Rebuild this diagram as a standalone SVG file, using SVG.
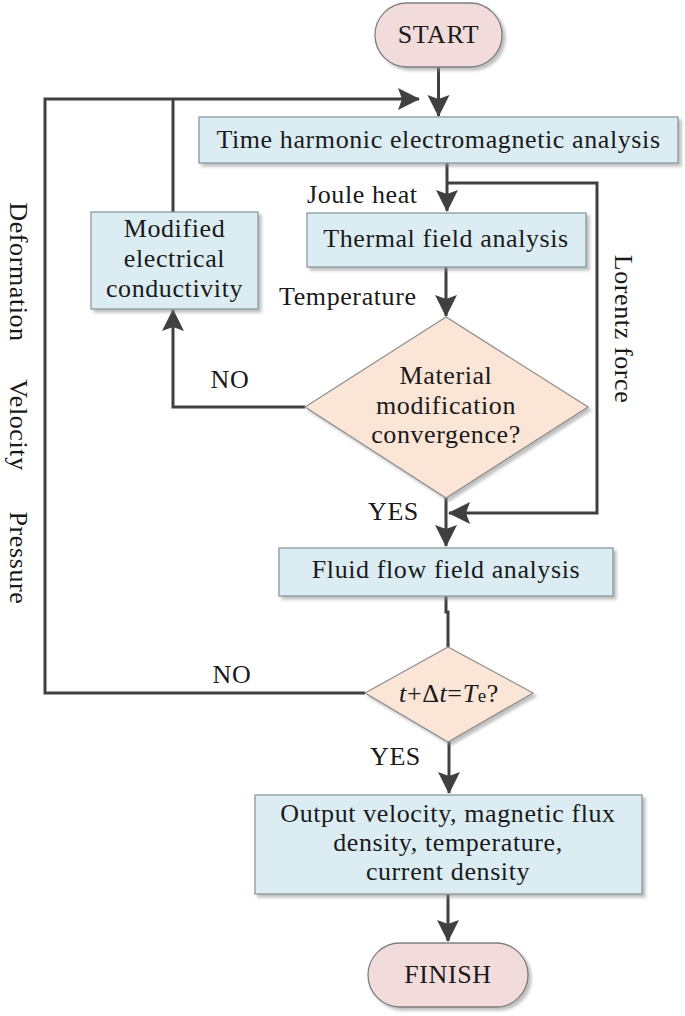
<svg xmlns="http://www.w3.org/2000/svg" width="685" height="1016" viewBox="0 0 685 1016">
<style>
text{font-family:"Liberation Serif","Times New Roman",serif;font-size:26px;letter-spacing:0.6px;fill:#1a1a1a}
.c{text-anchor:middle}
.box{fill:#dbedf3;stroke:#8a9a9f;stroke-width:1.3}
.dia{fill:#fbe5d6;stroke:#8f8f8f;stroke-width:1.2}
.pill{fill:#f2dcdb;stroke:#7f7f7f;stroke-width:1.3}
.ln{fill:none;stroke:#404040;stroke-width:3}
.shape{filter:url(#sh)}
</style>
<defs>
<filter id="sh" x="-10%" y="-10%" width="130%" height="140%">
<feDropShadow dx="3" dy="3" stdDeviation="1.5" flood-color="#8c8c8c" flood-opacity="0.55"/>
</filter>
<marker id="ah" viewBox="-23 -12 25 24" refX="0" refY="0" markerWidth="25" markerHeight="24" markerUnits="userSpaceOnUse" orient="auto">
<path d="M1,0 L-21,-11 L-17,0 L-21,11 Z" fill="#404040"/>
</marker>
</defs>
<g id="connectors">
<path class="ln" d="M438.5,67 V116" marker-end="url(#ah)"/>
<path class="ln" d="M365,693 H45 V99 H419" marker-end="url(#ah)"/>
<path class="ln" d="M173,212 V99"/>
<path class="ln" d="M447,163 V211" marker-end="url(#ah)"/>
<path class="ln" d="M447,183 H597 V513 H449" marker-end="url(#ah)"/>
<path class="ln" d="M446,267 V316" marker-end="url(#ah)"/>
<path class="ln" d="M305,407 H173 V310" marker-end="url(#ah)"/>
<path class="ln" d="M446,498 V546" marker-end="url(#ah)"/>
<path class="ln" d="M446,596 V612 H448 V647"/>
<path class="ln" d="M449,742 V793" marker-end="url(#ah)"/>
<path class="ln" d="M448,894 V941" marker-end="url(#ah)"/>
</g>
<g id="labels">
<text x="307" y="203">Joule heat</text>
<text x="279" y="305">Temperature</text>
<text class="c" x="230" y="388">NO</text>
<text x="368" y="520">YES</text>
<text class="c" x="232" y="683">NO</text>
<text x="370" y="765">YES</text>
<text class="c" transform="translate(615,329) rotate(90)">Lorentz force</text>
<text class="c" transform="translate(10,272) rotate(90)">Deformation</text>
<text class="c" transform="translate(10,425) rotate(90)">Velocity</text>
<text class="c" transform="translate(10,558) rotate(90)">Pressure</text>
</g>
<g id="start">
<rect class="pill shape" x="375" y="3" width="127" height="64" rx="32"/>
<text class="c" x="438.5" y="43">START</text>
</g>
<g id="em-analysis">
<rect class="box shape" x="199" y="117" width="479" height="46"/>
<text class="c" x="438.5" y="148">Time harmonic electromagnetic analysis</text>
</g>
<g id="thermal">
<rect class="box shape" x="307" y="213" width="279" height="54"/>
<text class="c" x="446" y="247">Thermal field analysis</text>
</g>
<g id="modified">
<rect class="box shape" x="91" y="212" width="167" height="97"/>
<text class="c" x="174.5" y="237">Modified</text>
<text class="c" x="174.5" y="267">electrical</text>
<text class="c" x="174.5" y="297">conductivity</text>
</g>
<g id="convergence">
<polygon class="dia shape" points="446,317 588,407 446,498 305,407"/>
<text class="c" x="446" y="384">Material</text>
<text class="c" x="446" y="414">modification</text>
<text class="c" x="446" y="443">convergence?</text>
</g>
<g id="fluid">
<rect class="box shape" x="279" y="548" width="334" height="48"/>
<text class="c" x="446" y="578">Fluid flow field analysis</text>
</g>
<g id="time-check">
<polygon class="dia shape" points="448,647 533,693 448,742 365,693"/>
<text class="c" x="449" y="702"><tspan font-style="italic">t</tspan>+Δ<tspan font-style="italic">t</tspan>=<tspan font-style="italic">T</tspan><tspan font-size="19">e</tspan>?</text>
</g>
<g id="output">
<rect class="box shape" x="255" y="795" width="387" height="99"/>
<text class="c" x="448" y="822">Output velocity, magnetic flux</text>
<text class="c" x="448" y="851">density, temperature,</text>
<text class="c" x="448" y="880">current density</text>
</g>
<g id="finish">
<rect class="pill shape" x="368" y="943" width="160" height="64" rx="32"/>
<text class="c" x="448" y="983">FINISH</text>
</g>
</svg>
